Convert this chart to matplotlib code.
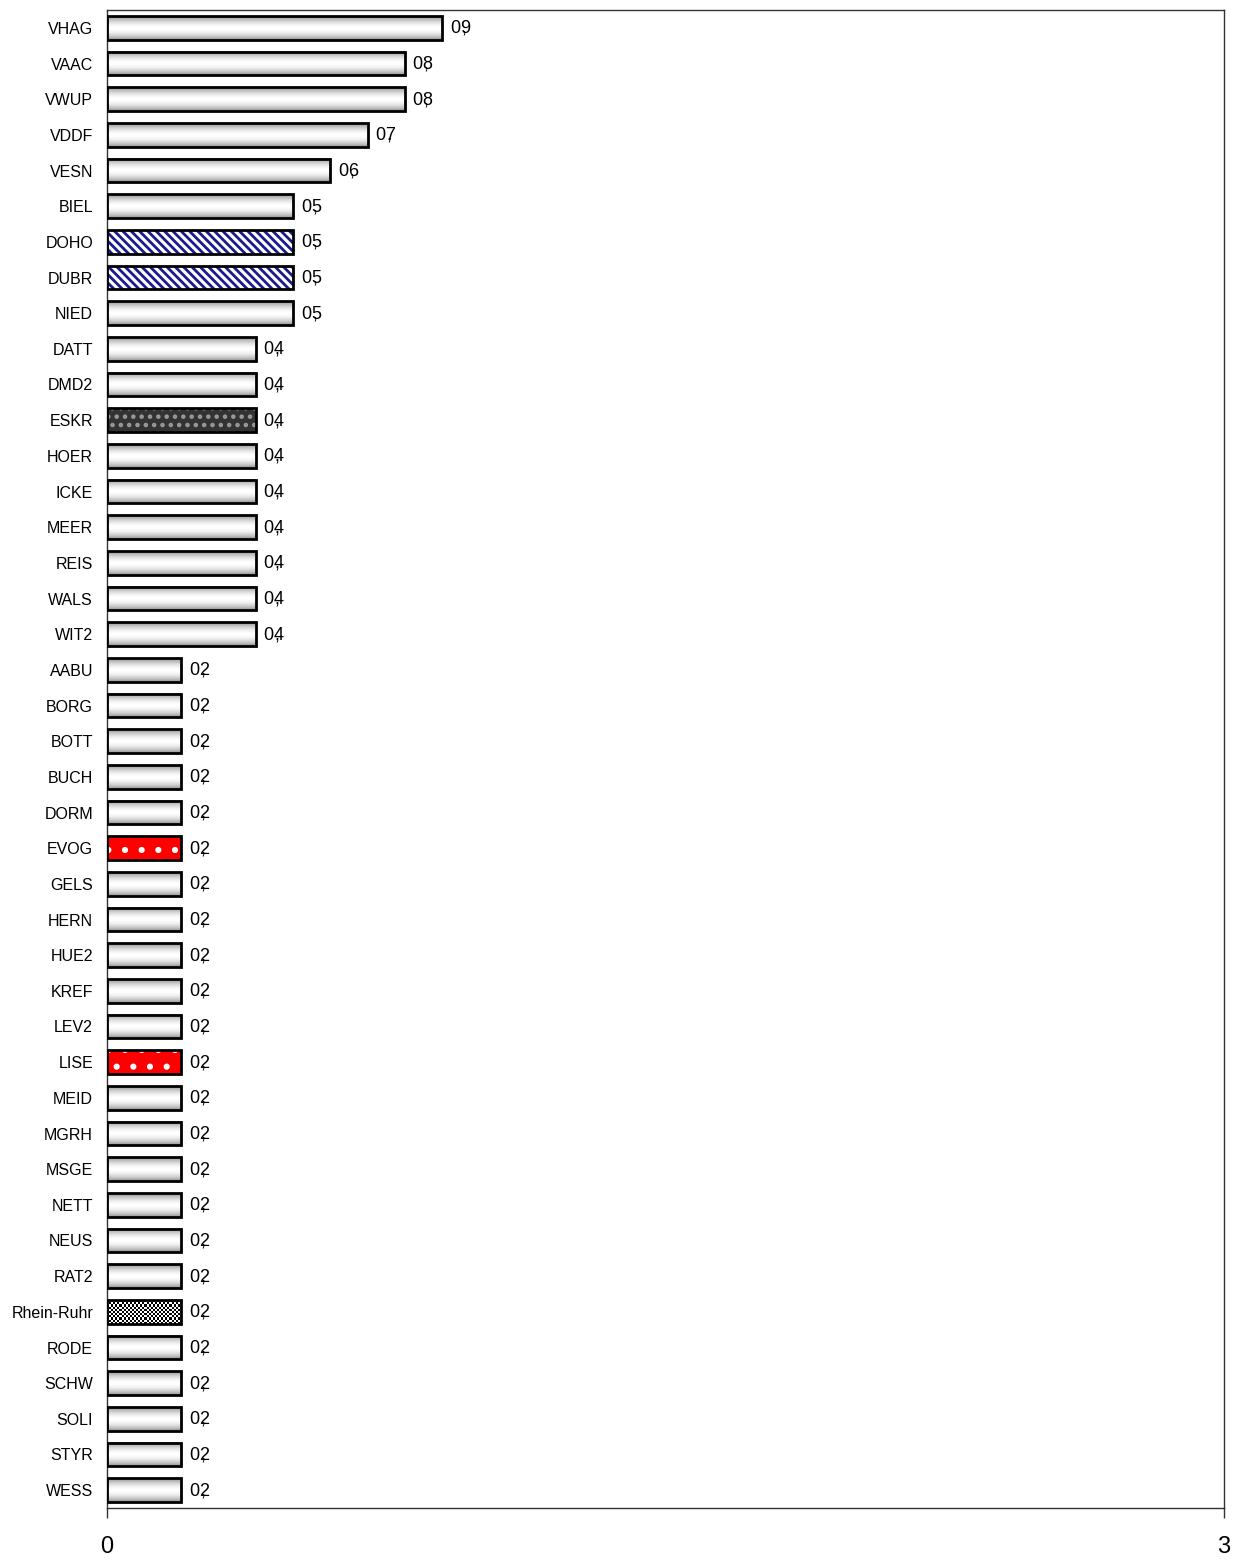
import numpy as np
import matplotlib.pyplot as plt

plt.rcParams['font.family'] = ['Liberation Sans', 'DejaVu Sans']
plt.rcParams['mathtext.fontset'] = 'custom'
plt.rcParams['mathtext.rm'] = 'Liberation Sans'
plt.rcParams['hatch.linewidth'] = 2.0

stations = ["VHAG", "VAAC", "VWUP", "VDDF", "VESN", "BIEL", "DOHO", "DUBR", "NIED",
            "DATT", "DMD2", "ESKR", "HOER", "ICKE", "MEER", "REIS", "WALS", "WIT2",
            "AABU", "BORG", "BOTT", "BUCH", "DORM", "EVOG", "GELS", "HERN", "HUE2",
            "KREF", "LEV2", "LISE", "MEID", "MGRH", "MSGE", "NETT", "NEUS", "RAT2",
            "Rhein-Ruhr", "RODE", "SCHW", "SOLI", "STYR", "WESS"]
values = [0.9, 0.8, 0.8, 0.7, 0.6, 0.5, 0.5, 0.5, 0.5,
          0.4, 0.4, 0.4, 0.4, 0.4, 0.4, 0.4, 0.4, 0.4,
          0.2, 0.2, 0.2, 0.2, 0.2, 0.2, 0.2, 0.2, 0.2,
          0.2, 0.2, 0.2, 0.2, 0.2, 0.2, 0.2, 0.2, 0.2,
          0.2, 0.2, 0.2, 0.2, 0.2, 0.2]
stripes = ["DOHO", "DUBR"]
dark = ["ESKR"]
red = ["EVOG", "LISE"]
checker = ["Rhein-Ruhr"]

fig = plt.figure(figsize=(12.4, 15.6), dpi=100)
ax = fig.add_axes([107 / 1240, 1 - 1508 / 1560, 1117 / 1240, 1498 / 1560])

n = len(stations)
ypos = np.arange(n)
h = 0.66

# vertical grey gradient for the plain bars
g = np.array([0.6, 0.72, 0.82, 0.9, 0.96, 1.0, 1.0, 0.97, 0.92, 0.84, 0.75, 0.62])
grad = np.repeat(g[:, None], 2, axis=1)

# fine checkerboard for Rhein-Ruhr
chk = (np.indices((11, 36)).sum(axis=0) % 2).astype(float)

for y, name, v in zip(ypos, stations, values):
    y0, y1 = y - h / 2, y + h / 2
    if name in stripes:
        ax.barh(y, v, height=h, color="white", edgecolor="#1a1a8c", hatch="\\\\\\\\", lw=0, zorder=2)
    elif name in dark:
        ax.barh(y, v, height=h, color="#333333", edgecolor="#9a9a9a", hatch="..", lw=0, zorder=2)
    elif name in red:
        ax.barh(y, v, height=h, color="#ff0000", edgecolor="white", hatch=".", lw=0, zorder=2)
    elif name in checker:
        ax.imshow(chk, cmap="gray", extent=(0, v, y1, y0), aspect="auto",
                  interpolation="nearest", zorder=2)
    else:
        ax.imshow(grad, cmap="gray", vmin=0, vmax=1, extent=(0, v, y1, y0),
                  aspect="auto", interpolation="bilinear", zorder=2)
    ax.barh(y, v, height=h, fill=False, edgecolor="black", lw=2, zorder=3)
    # value label "0,x" with the comma tucked under the second digit
    d = f"{v:.1f}".split(".")
    lab = r"$\mathregular{" + d[0] + d[1] + r"\!\!\!,}$"
    ax.text(v + 0.02, y, lab, va="center", ha="left", fontsize=13, zorder=4)

ax.set_xlim(0, 3)
ax.set_ylim(n - 0.5, -0.5)
ax.set_yticks(ypos)
ax.set_yticklabels(stations, fontsize=11.5)
ax.tick_params(axis="y", length=0, pad=10)
ax.set_xticks([0, 3])
ax.set_xticklabels(["0", "3"], fontsize=17)
ax.tick_params(axis="x", length=7, width=1, direction="out", pad=13, color="#333333")
for s in ax.spines.values():
    s.set_color("#333333")
    s.set_linewidth(1)

fig.savefig("out.png", dpi=100)
